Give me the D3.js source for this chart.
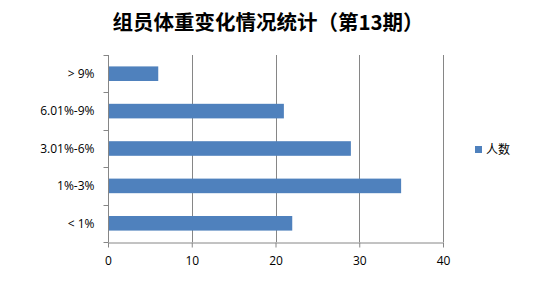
<!DOCTYPE html>
<html>
<head>
<meta charset="utf-8">
<script src="https://cdn.jsdelivr.net/npm/d3@7"></script>
<style>
  body { margin: 0; background: #fff; }
  svg text { font-family: "Noto Sans CJK SC", "DejaVu Sans", sans-serif; }
</style>
</head>
<body>
<svg id="chart"></svg>
<script>
// data
var categories = ["> 9%", "6.01%-9%", "3.01%-6%", "1%-3%", "< 1%"];
var values = [6, 21, 29, 35, 22];
var xTicks = [0, 10, 20, 30, 40];
var seriesName = "人数";
var title = "组员体重变化情况统计（第13期）";

var width = 544, height = 286;
var margin = { top: 55, right: 101, bottom: 44, left: 108 };
var plotW = width - margin.left - margin.right,
  plotH = height - margin.top - margin.bottom;

var svg = d3.select("#chart")
  .attr("width", width)
  .attr("height", height);

svg.append("text")
  .attr("x", 268)
  .attr("y", 30)
  .attr("text-anchor", "middle")
  .style("font-size", "20.5px")
  .style("font-weight", "bold")
  .attr("fill", "#000")
  .text(title);

var g = svg.append("g")
  .attr("transform", "translate(" + margin.left + "," + margin.top + ")");

var x = d3.scaleLinear().domain([0, 40]).range([0, plotW]);
var y = d3.scaleBand().domain(categories).range([0, plotH]).paddingInner(0.61).paddingOuter(0.305);
var yb = d3.scaleBand().domain(categories).range([0, plotH]);

// vertical grid
g.append("g")
  .selectAll("line")
  .data(xTicks.slice(1))
  .enter().append("line")
  .attr("x1", function (d) { return Math.round(x(d)) + 0.5; })
  .attr("x2", function (d) { return Math.round(x(d)) + 0.5; })
  .attr("y1", 0)
  .attr("y2", plotH)
  .attr("stroke", "#868686")
  .attr("stroke-width", 1);

// bars
g.append("g")
  .selectAll("rect")
  .data(values)
  .enter().append("rect")
  .attr("x", x(0))
  .attr("y", function (d, i) { return y(categories[i]); })
  .attr("width", function (d) { return x(d); })
  .attr("height", y.bandwidth())
  .attr("fill", "#4f81bd");

// x axis
var xAxis = g.append("g")
  .attr("transform", "translate(0," + (plotH + 0.5) + ")")
  .call(d3.axisBottom(x).tickValues(xTicks).tickSize(5).tickSizeOuter(0));
xAxis.select(".domain").attr("stroke", "#868686");
xAxis.selectAll(".tick line").attr("stroke", "#868686");
xAxis.selectAll("text")
  .attr("fill", "#000")
  .attr("dy", "1.2em")
  .style("font-size", "12px")
  .style("font-family", "'Open Sans', 'DejaVu Sans', sans-serif");

// y axis with ticks at category boundaries
var yAxis = g.append("g").attr("transform", "translate(0.5,0)");
yAxis.append("line")
  .attr("x1", 0).attr("x2", 0)
  .attr("y1", 0).attr("y2", plotH)
  .attr("stroke", "#868686");
yAxis.selectAll("line.tk")
  .data(categories.concat(["end"]))
  .enter().append("line")
  .attr("class", "tk")
  .attr("x1", -5).attr("x2", 0)
  .attr("y1", function (d, i) { return Math.round(i * yb.bandwidth()) + 0.5; })
  .attr("y2", function (d, i) { return Math.round(i * yb.bandwidth()) + 0.5; })
  .attr("stroke", "#868686");
yAxis.selectAll("text")
  .data(categories)
  .enter().append("text")
  .attr("x", -14)
  .attr("y", function (d) { return yb(d) + yb.bandwidth() / 2; })
  .attr("dy", "0.35em")
  .attr("text-anchor", "end")
  .style("font-size", "12px")
  .style("font-family", "'Open Sans', 'DejaVu Sans', sans-serif")
  .attr("fill", "#000")
  .text(function (d) { return d; });

// legend
var legend = svg.append("g").attr("transform", "translate(475,146)");
legend.append("rect")
  .attr("width", 7).attr("height", 7)
  .attr("fill", "#4f81bd");
legend.append("text")
  .attr("x", 11)
  .attr("y", 4)
  .attr("dy", "0.35em")
  .style("font-size", "12px")
  .attr("fill", "#000")
  .text(seriesName);
</script>
</body>
</html>
